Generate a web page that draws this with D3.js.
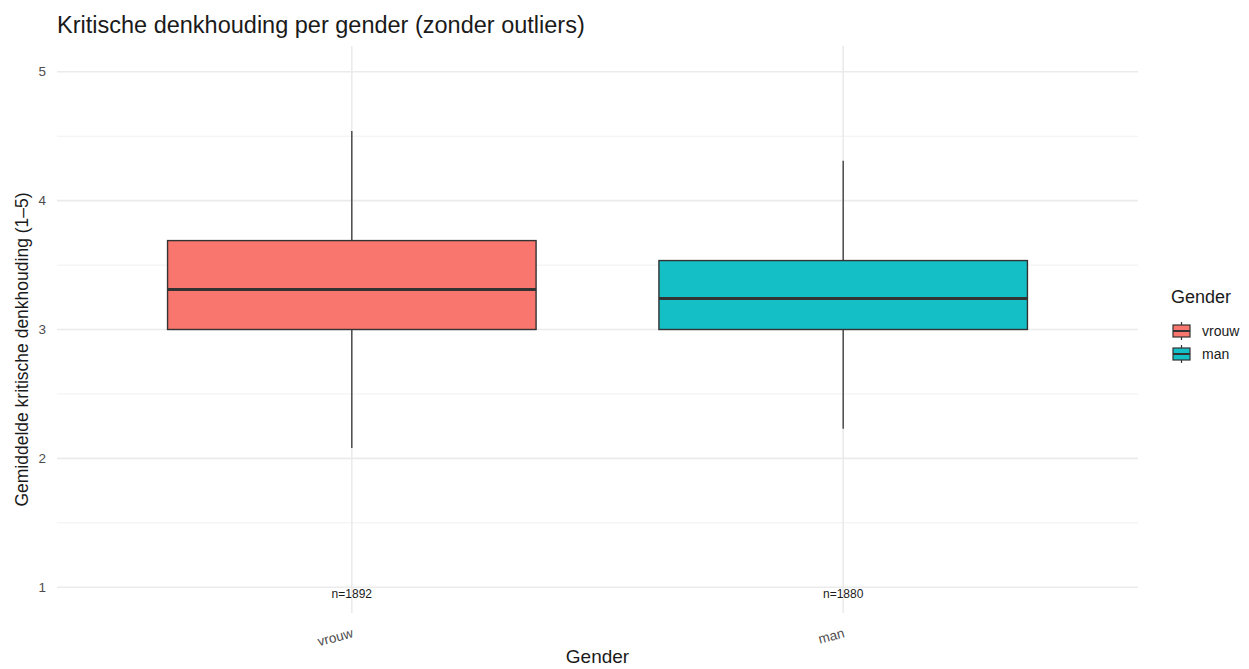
<!DOCTYPE html>
<html>
<head>
<meta charset="utf-8">
<script src="https://cdn.jsdelivr.net/npm/d3@7"></script>
<style>
  body { margin: 0; background: #fff; }
  text { font-family: "Liberation Sans", Arial, sans-serif; }
</style>
</head>
<body>
<div id="chart"></div>
<script>
// data
const genders = ['vrouw', 'man']
const counts = [1892, 1880]
const whiskerLow = [2.08, 2.23]
const q1 = [3.0, 3.0]
const medians = [3.31, 3.24]
const q3 = [3.69, 3.535]
const whiskerHigh = [4.54, 4.31]
const yTicks = [1, 2, 3, 4, 5]
const fills = ['#F8766D', '#14BFC5']

const width = 1249
const height = 669
const margin = { top: 46, right: 111, bottom: 56, left: 57 }

const svg = d3.select('#chart')
  .append('svg')
  .attr('width', width)
  .attr('height', height)

const x = d3.scaleBand()
  .domain(genders)
  .range([margin.left, width - margin.right])
  .paddingOuter(0.1)
  .paddingInner(0)

// ggplot style expansion: 5% of data range 1..5
const y = d3.scaleLinear()
  .domain([0.8, 5.2])
  .range([height - margin.bottom, margin.top])

const cx = d => x(d) + x.bandwidth() / 2

const grid = svg.append('g')

// minor grid
grid.selectAll('line.minor')
  .data(d3.range(1.5, 5, 1))
  .join('line')
  .attr('class', 'minor')
  .attr('x1', margin.left)
  .attr('x2', width - margin.right)
  .attr('y1', d => y(d))
  .attr('y2', d => y(d))
  .attr('stroke', '#f0f0f0')
  .attr('stroke-width', 1)

// major grid
grid.selectAll('line.major')
  .data(yTicks)
  .join('line')
  .attr('class', 'major')
  .attr('x1', margin.left)
  .attr('x2', width - margin.right)
  .attr('y1', d => y(d))
  .attr('y2', d => y(d))
  .attr('stroke', '#ebebeb')
  .attr('stroke-width', 1.6)

grid.selectAll('line.vgrid')
  .data(genders)
  .join('line')
  .attr('class', 'vgrid')
  .attr('x1', cx)
  .attr('x2', cx)
  .attr('y1', margin.top)
  .attr('y2', height - margin.bottom)
  .attr('stroke', '#ebebeb')
  .attr('stroke-width', 1.6)

// boxes
const boxW = x.bandwidth() * 0.75
const boxes = svg.append('g')
  .selectAll('g')
  .data(genders)
  .join('g')

boxes.append('line')
  .attr('x1', cx)
  .attr('x2', cx)
  .attr('y1', (d, i) => y(whiskerHigh[i]))
  .attr('y2', (d, i) => y(q3[i]))
  .attr('stroke', '#333')
  .attr('stroke-width', 1.3)

boxes.append('line')
  .attr('x1', cx)
  .attr('x2', cx)
  .attr('y1', (d, i) => y(q1[i]))
  .attr('y2', (d, i) => y(whiskerLow[i]))
  .attr('stroke', '#333')
  .attr('stroke-width', 1.3)

boxes.append('rect')
  .attr('x', d => x(d) + (x.bandwidth() - boxW) / 2)
  .attr('width', boxW)
  .attr('y', (d, i) => y(q3[i]))
  .attr('height', (d, i) => y(q1[i]) - y(q3[i]))
  .attr('fill', (d, i) => fills[i])
  .attr('stroke', '#333')
  .attr('stroke-width', 1.4)

boxes.append('line')
  .attr('x1', d => x(d) + (x.bandwidth() - boxW) / 2)
  .attr('x2', d => x(d) + (x.bandwidth() + boxW) / 2)
  .attr('y1', (d, i) => y(medians[i]))
  .attr('y2', (d, i) => y(medians[i]))
  .attr('stroke', '#333')
  .attr('stroke-width', 3)

// n labels
svg.append('g')
  .selectAll('text')
  .data(genders)
  .join('text')
  .attr('x', cx)
  .attr('y', y(0.92))
  .attr('text-anchor', 'middle')
  .attr('font-size', 12)
  .attr('fill', '#1a1a1a')
  .text((d, i) => 'n=' + counts[i])

// y axis labels
svg.append('g')
  .selectAll('text')
  .data(yTicks)
  .join('text')
  .attr('x', margin.left - 11)
  .attr('y', d => y(d))
  .attr('dy', '0.35em')
  .attr('text-anchor', 'end')
  .attr('font-size', 13.5)
  .attr('fill', '#4d4d4d')
  .text(d => d)

// x axis labels, rotated 15 degrees, right-aligned on the tick
svg.append('g')
  .selectAll('text')
  .data(genders)
  .join('text')
  .attr('transform', d => `translate(${cx(d) + 2},${height - margin.bottom + 24}) rotate(-15)`)
  .attr('text-anchor', 'end')
  .attr('font-size', 13.5)
  .attr('fill', '#4d4d4d')
  .text(d => d)

// axis titles
svg.append('text')
  .attr('x', (margin.left + width - margin.right) / 2)
  .attr('y', height - 6)
  .attr('text-anchor', 'middle')
  .attr('font-size', 19)
  .attr('fill', '#1a1a1a')
  .text('Gender')

svg.append('text')
  .attr('transform', `translate(28,${(margin.top + height - margin.bottom) / 2 + 20}) rotate(-90)`)
  .attr('text-anchor', 'middle')
  .attr('font-size', 17.5)
  .attr('fill', '#1a1a1a')
  .text('Gemiddelde kritische denkhouding (1\u20135)')

// title
svg.append('text')
  .attr('x', margin.left)
  .attr('y', 33)
  .attr('font-size', 23.5)
  .attr('fill', '#1a1a1a')
  .text('Kritische denkhouding per gender (zonder outliers)')

// legend
const legend = svg.append('g').attr('transform', 'translate(1171,0)')
legend.append('text')
  .attr('x', 0)
  .attr('y', 303)
  .attr('font-size', 18)
  .attr('fill', '#1a1a1a')
  .text('Gender')

const keys = legend.selectAll('g.key')
  .data(genders)
  .join('g')
  .attr('class', 'key')
  .attr('transform', (d, i) => `translate(1,${322 + i * 23})`)

keys.append('line')
  .attr('x1', 9.5).attr('x2', 9.5)
  .attr('y1', 0).attr('y2', 18)
  .attr('stroke', '#333')
  .attr('stroke-width', 1.2)

keys.append('rect')
  .attr('x', 1).attr('y', 3)
  .attr('width', 17).attr('height', 12)
  .attr('fill', (d, i) => fills[i])
  .attr('stroke', '#333')
  .attr('stroke-width', 1.2)

keys.append('line')
  .attr('x1', 1).attr('x2', 18)
  .attr('y1', 9).attr('y2', 9)
  .attr('stroke', '#333')
  .attr('stroke-width', 2)

keys.append('text')
  .attr('x', 30)
  .attr('y', 9)
  .attr('dy', '0.35em')
  .attr('font-size', 14)
  .attr('fill', '#1a1a1a')
  .text(d => d)
</script>
</body>
</html>
